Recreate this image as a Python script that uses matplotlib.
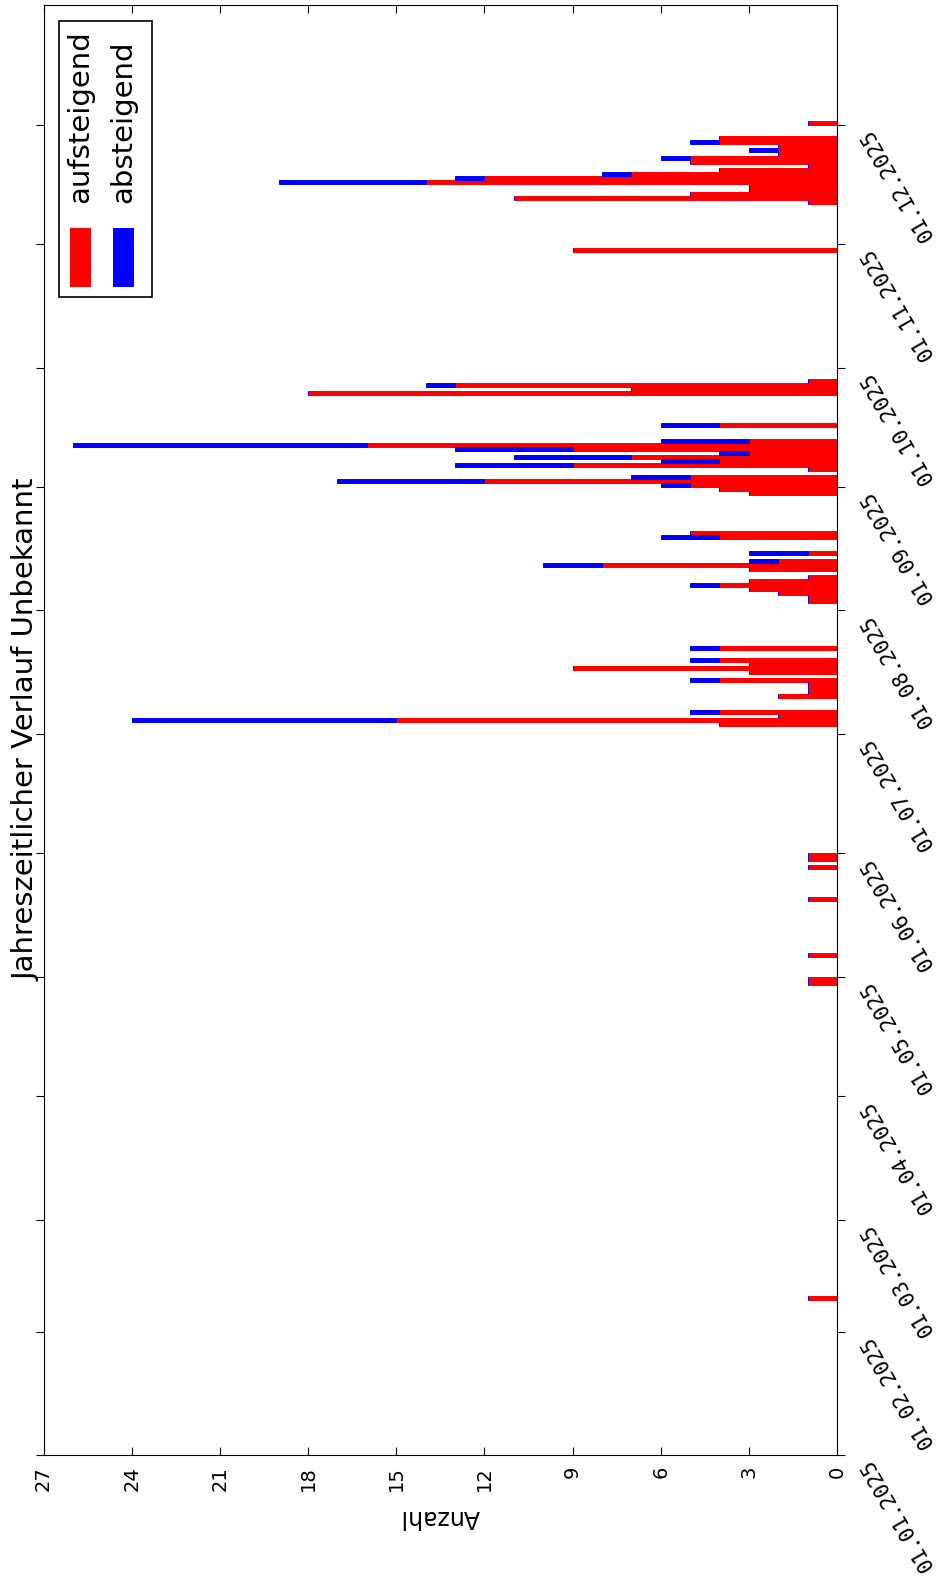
import matplotlib
matplotlib.use('Agg')
import matplotlib.pyplot as plt
import matplotlib.dates as mdates
from matplotlib.patches import Rectangle
import pandas as pd

# Daily counts (aufsteigend / absteigend)
dates = [
    '2025-02-09',
    '2025-04-29', '2025-04-30', '2025-05-06', '2025-05-20', '2025-05-28', '2025-05-30', '2025-05-31',
    '2025-07-03', '2025-07-04', '2025-07-05', '2025-07-06', '2025-07-10', '2025-07-11', '2025-07-12',
    '2025-07-13', '2025-07-14', '2025-07-16', '2025-07-17', '2025-07-18', '2025-07-19', '2025-07-22',
    '2025-08-03', '2025-08-04', '2025-08-05', '2025-08-06', '2025-08-07', '2025-08-08', '2025-08-09',
    '2025-08-11', '2025-08-12', '2025-08-13', '2025-08-15', '2025-08-19', '2025-08-20',
    '2025-08-30', '2025-08-31', '2025-09-01', '2025-09-02', '2025-09-03', '2025-09-05', '2025-09-06',
    '2025-09-07', '2025-09-08', '2025-09-09', '2025-09-10', '2025-09-11', '2025-09-12', '2025-09-16',
    '2025-09-24', '2025-09-25', '2025-09-26', '2025-09-27',
    '2025-10-30',
    '2025-11-11', '2025-11-12', '2025-11-13', '2025-11-14', '2025-11-15', '2025-11-16', '2025-11-17',
    '2025-11-18', '2025-11-19', '2025-11-20', '2025-11-21', '2025-11-22', '2025-11-23', '2025-11-24',
    '2025-11-25', '2025-11-26', '2025-11-27',
    '2025-12-01',
]
aufsteigend = [
    1,
    1, 1, 1, 1, 1, 1, 1,
    4, 15, 2, 4, 2, 1, 1,
    1, 4, 3, 9, 3, 4, 4,
    1, 1, 2, 3, 4, 3, 1,
    3, 8, 2, 1, 4, 5,
    3, 4, 5, 12, 5, 1, 9,
    4, 7, 3, 9, 16, 3, 4,
    18, 7, 13, 1,
    9,
    1, 11, 5, 3, 3, 14, 12,
    7, 4, 1, 5, 5, 2, 2,
    2, 4, 4,
    1,
]
absteigend = [
    0,
    0, 0, 0, 0, 0, 0, 0,
    0, 9, 0, 1, 0, 0, 0,
    0, 1, 0, 0, 0, 1, 1,
    0, 0, 0, 0, 1, 0, 0,
    0, 2, 1, 2, 2, 0,
    0, 0, 1, 5, 2, 0, 4,
    2, 4, 1, 4, 10, 3, 2,
    0, 0, 1, 0,
    0,
    0, 0, 0, 0, 0, 5, 1,
    1, 0, 0, 0, 1, 0, 1,
    0, 1, 0,
    0,
]
month_labels = ['01.%02d.2025' % m for m in range(1, 13)]
value_ticks = [0, 3, 6, 9, 12, 15, 18, 21, 24, 27]
legend_labels = ['aufsteigend', 'absteigend']
legend_colors = ['red', 'blue']
title = 'Jahreszeitlicher Verlauf Unbekannt'

W, H = 939, 1589


def fig_xy(x, y):
    # pixel position (from top left) -> figure fraction
    return x / W, 1 - y / H


def main():
    fig = plt.figure(figsize=(W / 100, H / 100), dpi=100)
    ax = fig.add_axes([43.5 / W, (H - 1455) / H, (837 - 43.5) / W, (1455 - 5) / H])

    y = mdates.date2num(pd.to_datetime(dates))
    ax.barh(y, aufsteigend, height=1, align='edge', color='red', edgecolor='red', linewidth=0.7)
    ax.barh(y, absteigend, left=aufsteigend, height=1, align='edge',
            color='blue', edgecolor='blue', linewidth=0.7)

    ax.set_xlim(27, 0)
    ax.set_ylim(mdates.date2num(pd.Timestamp('2025-01-01')), mdates.date2num(pd.Timestamp('2025-12-31')))

    # value axis (bottom)
    ax.set_xticks(value_ticks)
    ax.set_xticklabels([str(v) for v in value_ticks], rotation=90, fontsize=14)
    ax.tick_params(axis='x', direction='in', length=6, top=True, bottom=True, pad=8)
    ax.set_xlabel('Anzahl', rotation=180, fontsize=17, labelpad=10)

    # date axis (right)
    month_pos = mdates.date2num(pd.date_range('2025-01-01', periods=12, freq='MS'))
    ax.yaxis.tick_right()
    ax.set_yticks(month_pos)
    ax.set_yticklabels(month_labels, rotation=120, ha='left', va='top',
                       fontsize=15, family='DejaVu Sans Mono')
    ax.tick_params(axis='y', direction='out', length=6, left=True, right=True,
                   labelleft=False, labelright=True, pad=8)

    # title on the left, reading upwards
    tx, ty = fig_xy(41, 730)
    fig.text(tx, ty, title, rotation=90, ha='right', va='center', fontsize=21)

    # hand-made legend, rotated like the rest of the chart
    bx, by = fig_xy(58.5, 297)
    fig.add_artist(Rectangle((bx, by), (152 - 58.5) / W, (297 - 21) / H, transform=fig.transFigure,
                             fill=False, edgecolor='black', linewidth=1.2))
    for label, color, xc in zip(legend_labels, legend_colors, [80.5, 123.2]):
        px, py = fig_xy(xc - 10.3, 287)
        fig.add_artist(Rectangle((px, py), 20.6 / W, (287 - 228) / H, transform=fig.transFigure,
                                 facecolor=color, edgecolor='none'))
        lx, ly = fig_xy(xc, 203)
        fig.text(lx, ly, label, rotation=90, ha='center', va='bottom', fontsize=21)

    fig.savefig('out.png', dpi=100)


if __name__ == "__main__":
    main()
